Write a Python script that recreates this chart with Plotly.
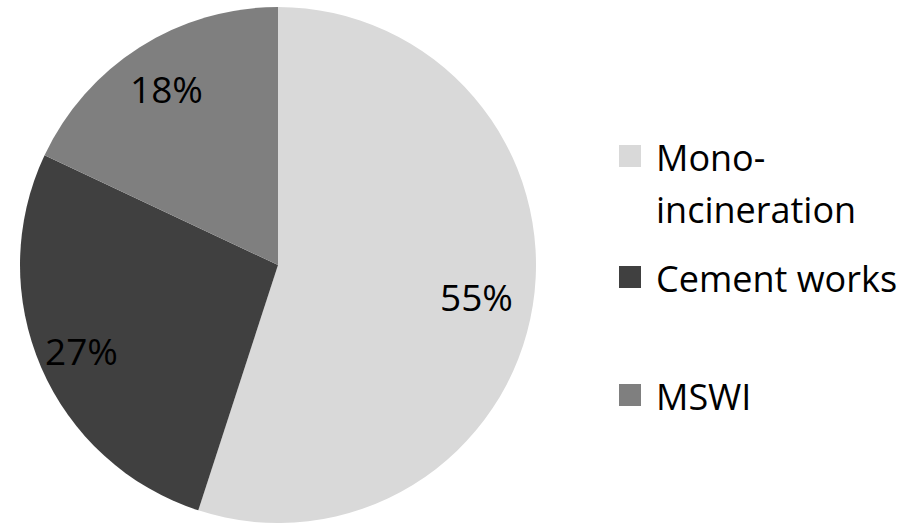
import math
import plotly.graph_objects as go

# Share of sewage sludge treatment by route
categories = ["Mono-incineration", "Cement works", "MSWI"]
shares = [55, 27, 18]
colors = ["#d9d9d9", "#404040", "#7f7f7f"]
legend_lines = [["Mono-", "incineration"], ["Cement works"], ["MSWI"]]

W, H = 914, 524
cx, cy, r = 278, 265, 258          # pie centre and radius in pixels
label_frac = [0.78, 0.83, 0.81]    # radial position of the percentage labels

fig = go.Figure(go.Pie(
    labels=categories,
    values=shares,
    sort=False,
    direction="clockwise",
    rotation=0,
    marker=dict(colors=colors, line=dict(width=0)),
    textinfo="none",
    hoverinfo="label+percent",
    showlegend=False,
    domain=dict(x=[(cx - r) / W, (cx + r) / W], y=[1 - (cy + r) / H, 1 - (cy - r) / H]),
))

annotations = []
total = sum(shares)
acc = 0
for val, f in zip(shares, label_frac):
    mid = (acc + val / 2) / total * 2 * math.pi
    acc += val
    px = cx + r * f * math.sin(mid)
    py = cy - r * f * math.cos(mid)
    annotations.append(dict(
        x=px / W, y=1 - py / H, xref="paper", yref="paper",
        text=f"{round(val / total * 100)}%", showarrow=False,
        font=dict(family="Open Sans", size=37, color="#000000"),
        xanchor="center", yanchor="middle",
    ))

# Legend drawn by hand: large swatches and widely spaced lines
shapes = []
swatch_top = [145, 266, 384]
sw = 22
line_gap = 52
for col, top, lines in zip(colors, swatch_top, legend_lines):
    shapes.append(dict(
        type="rect", xref="paper", yref="paper",
        x0=619 / W, x1=(619 + sw) / W, y0=1 - (top + sw) / H, y1=1 - top / H,
        fillcolor=col, line=dict(width=0),
    ))
    for i, txt in enumerate(lines):
        yc = top + sw / 2 + i * line_gap
        annotations.append(dict(
            x=654 / W, y=1 - (yc + 1) / H, xref="paper", yref="paper",
            text=txt, showarrow=False,
            font=dict(family="Open Sans", size=36, color="#000000"),
            xanchor="left", yanchor="middle",
        ))

fig.update_layout(
    width=W, height=H,
    margin=dict(l=0, r=0, t=0, b=0),
    paper_bgcolor="white", plot_bgcolor="white",
    annotations=annotations, shapes=shapes,
)

fig.write_html("out.html")
